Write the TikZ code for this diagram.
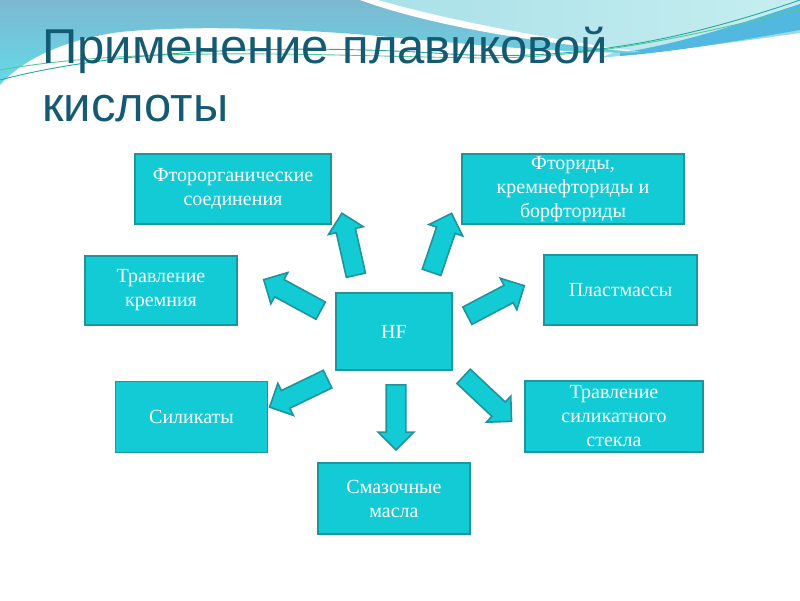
\documentclass[tikz,border=0pt]{standalone}
\usepackage{fontspec}
\setmainfont{Liberation Serif}
\newfontfamily\titlefont{Liberation Sans}
\usetikzlibrary{shapes.arrows,calc}
\definecolor{boxfill}{RGB}{18,203,213}
\definecolor{boxline}{RGB}{30,148,156}
\definecolor{titlecol}{RGB}{20,90,114}
\definecolor{bgblue}{RGB}{124,184,208}
\definecolor{bgcyan}{RGB}{100,218,234}
\definecolor{bgpale}{RGB}{168,224,232}
\definecolor{bgpale2}{RGB}{198,238,240}
\definecolor{bgband}{RGB}{82,184,224}
\definecolor{bglight}{RGB}{150,220,236}
\definecolor{lineA}{RGB}{36,168,160}
\definecolor{lineB}{RGB}{84,200,150}
\newcommand\blockarr[2]{\path let \p1=($(#2)-(#1)$), \n1={atan2(\y1,\x1)}, \n2={veclen(\x1,\y1)} in node[barrow, minimum height=\n2, rotate=\n1] at ($(#1)!0.5!(#2)$) {};}
\begin{document}
\begin{tikzpicture}[x=1pt,y=-1pt,
 box/.style={draw=boxline, fill=boxfill, line width=1.8pt, inner sep=0pt},
 boxtext/.style={text=white, align=center, font=\fontsize{20}{24}\selectfont, inner sep=0pt},
 barrow/.style={single arrow, draw=boxline, fill=boxfill, line width=1.6pt, inner xsep=0pt, inner ysep=9pt, minimum width=0pt, single arrow head extend=8pt, single arrow tip angle=90, outer sep=0pt},
 title/.style={text=titlecol, font=\titlefont\fontsize{49}{58}\selectfont, anchor=base west, inner sep=0pt}]
\useasboundingbox (0,0) rectangle (800,600);
\fill[white] (0,0) rectangle (800,600);
% background wave
\fill[bglight] (600,58) .. controls (680,50) and (750,40) .. (800,33) -- (800,20) -- (620,50) -- cycle;
\shade[left color=bgpale, right color=bgpale2] (360,0) -- (800,0) -- (800,30) .. controls (720,42) and (680,50) .. (640,53) .. controls (520,40) and (430,22) .. (360,0) -- cycle;
\fill[bgband] (620,53) .. controls (690,42) and (750,20) .. (800,4) -- (800,30) .. controls (720,44) and (670,52) .. (620,56) -- cycle;
\shade[top color=bgblue, bottom color=bgcyan] (0,0) -- (372,0) .. controls (430,22) and (520,40) .. (640,53) .. controls (540,52) and (470,44) .. (400,38) .. controls (320,30) and (200,24) .. (120,32) .. controls (60,40) and (20,62) .. (0,85) -- cycle;
\fill[white] (378,0) .. controls (440,18) and (530,36) .. (640,52) .. controls (520,42) and (420,22) .. (360,0) -- cycle;
\draw[lineA, line width=0.9pt] (0,80) .. controls (120,48) and (300,44) .. (450,54) .. controls (580,62) and (690,38) .. (800,0);
\draw[lineB, line width=0.9pt] (0,70) .. controls (140,45) and (330,56) .. (480,58) .. controls (610,58) and (710,30) .. (800,10);
% title
\node[title] (t1) at (42,63) {Применение плавиковой};
\node[title] (t2) at (42,121) {кислоты};
% boxes
\node[box, minimum width=196pt, minimum height=70pt] (fo) at (233,189) {};
\node[boxtext] at (fo) {Фторорганические\\соединения};
\node[box, minimum width=222pt, minimum height=70pt] (fl) at (573,189) {};
\node[boxtext] at (fl) {Фториды,\\кремнефториды и\\борфториды};
\node[box, minimum width=152pt, minimum height=69pt] (tk) at (161,290.5) {};
\node[boxtext] at (tk) {Травление\\кремния};
\node[box, minimum width=153pt, minimum height=70pt] (pl) at (620.5,290) {};
\node[boxtext] at (pl) {Пластмассы};
\node[box, minimum width=116pt, minimum height=77pt] (hf) at (394,331.5) {};
\node[boxtext] at (hf) {HF};
\node[box, minimum width=152pt, minimum height=71pt] (si) at (191.5,417) {};
\node[boxtext] at (si) {Силикаты};
\node[box, minimum width=178pt, minimum height=71pt] (ts) at (614,416.5) {};
\node[boxtext] at (ts) {Травление\\силикатного\\стекла};
\node[box, minimum width=152pt, minimum height=71pt] (sm) at (394,498.5) {};
\node[boxtext] at (sm) {Смазочные\\масла};
% arrows
\coordinate (a1) at (357,280); \coordinate (b1) at (343,218);
\coordinate (a2) at (430,277); \coordinate (b2) at (450,218);
\coordinate (a3) at (325,313); \coordinate (b3) at (268,282);
\coordinate (a4) at (463,318); \coordinate (b4) at (520,288);
\coordinate (a5) at (332,377); \coordinate (b5) at (274,405);
\coordinate (a6) at (396,380); \coordinate (b6) at (396,445);
\coordinate (a7) at (460,373); \coordinate (b7) at (508,418);
\blockarr{a1}{b1}
\blockarr{a2}{b2}
\blockarr{a3}{b3}
\blockarr{a4}{b4}
\blockarr{a5}{b5}
\blockarr{a6}{b6}
\blockarr{a7}{b7}
\end{tikzpicture}
\end{document}
